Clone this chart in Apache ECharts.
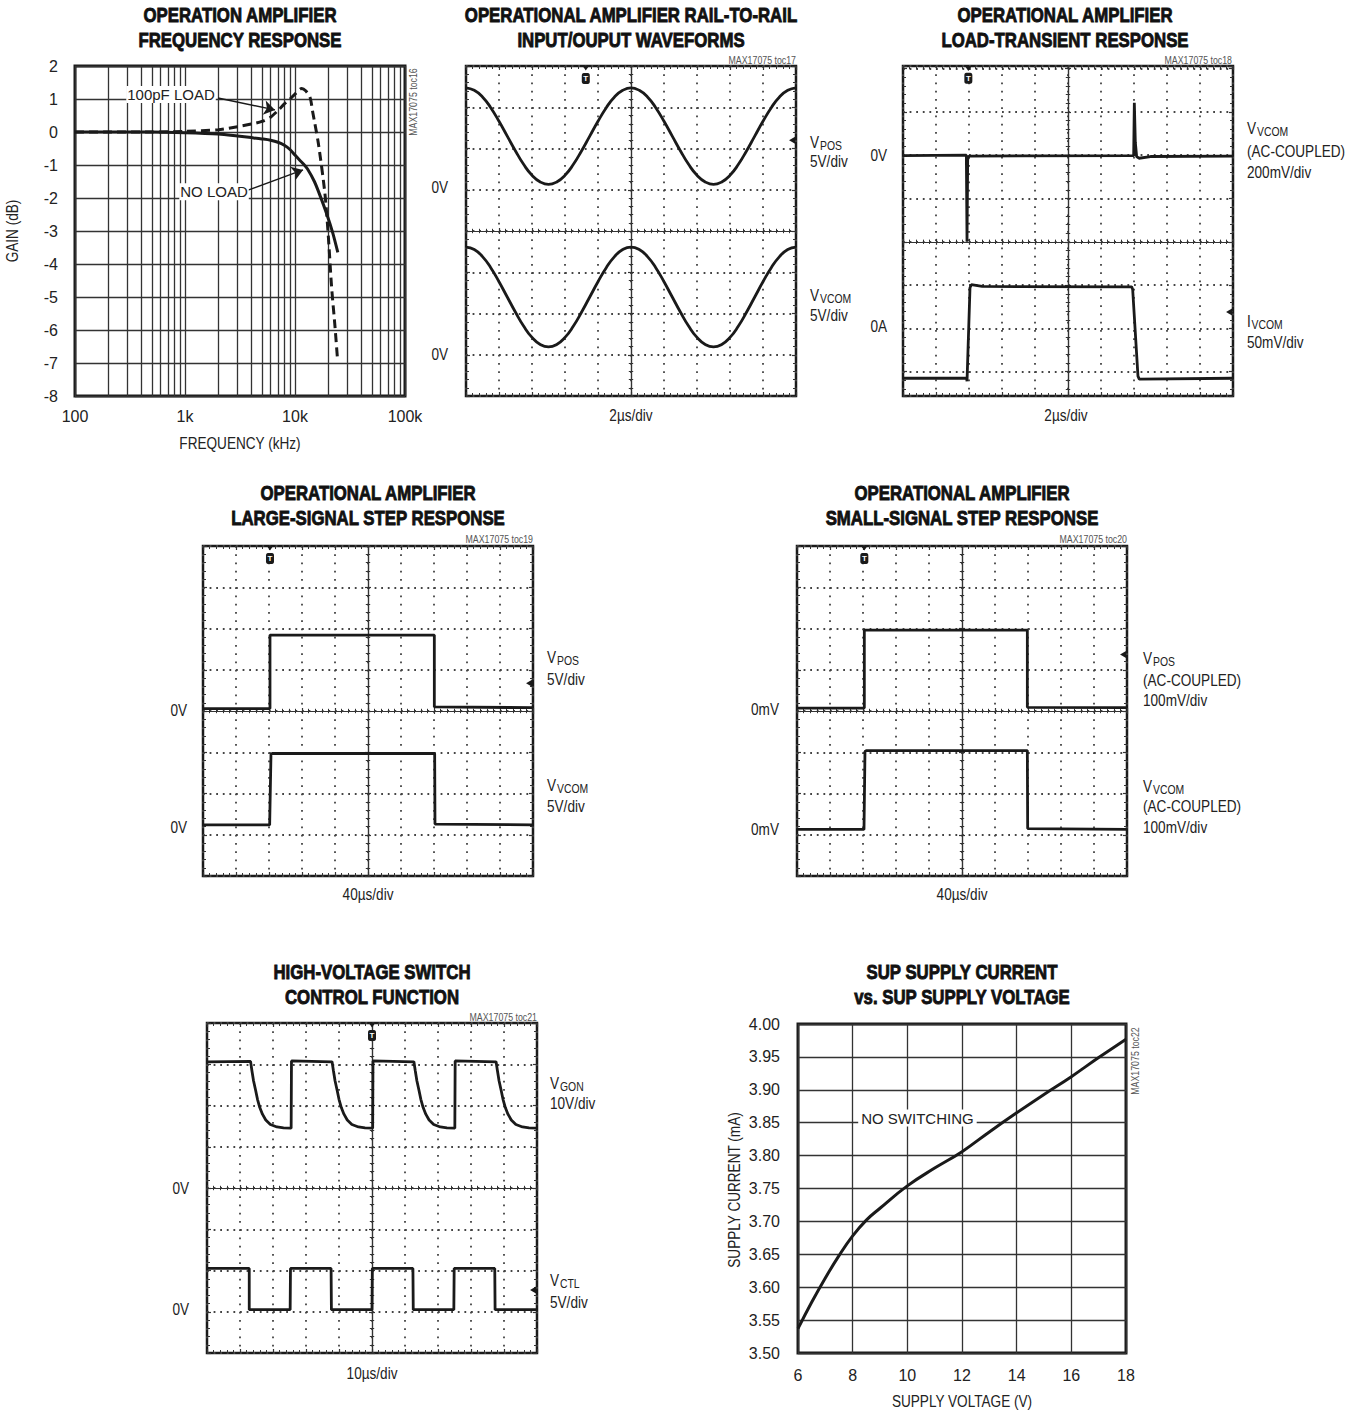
<!DOCTYPE html>
<html><head><meta charset="utf-8">
<script src="https://cdn.jsdelivr.net/npm/echarts@6/dist/echarts.min.js"></script>
<style>html,body{margin:0;padding:0;background:#fff}#c{width:1346px;height:1414px}</style>
</head><body><div id="c"></div>
<script>
// ---------------- DATA ----------------
// Panel 1: frequency response (kHz, dB)
const freqTickLabels = ['100', '1k', '10k', '100k'];
const freqMinorGrid = [200,300,400,500,600,700,800,900,2000,3000,4000,5000,6000,7000,8000,9000,20000,30000,40000,50000,60000,70000,80000,90000];
const freqNoLoad = [100,200,500,1000,2000,3000,4000,5000,6000,7000,8000,9000,10000,11000,12000,13000,15000,17000,19500,22000,24500];
const gainNoLoad = [0,0,0,-0.02,-0.06,-0.12,-0.17,-0.21,-0.25,-0.31,-0.4,-0.53,-0.7,-0.85,-0.98,-1.12,-1.5,-1.95,-2.5,-3.05,-3.65];
const freq100pF = [100,200,500,1000,2000,3000,4000,5000,6000,7000,8000,9000,10000,11500,12500,13700,14500,16300,18700,20100,21500,23100,24300];
const gain100pF = [0,0,0,0.02,0.07,0.16,0.24,0.32,0.45,0.65,0.85,1.0,1.15,1.32,1.25,1.05,0.6,-0.34,-1.86,-3.17,-4.69,-5.9,-6.85];

// Panel 2: rail-to-rail waveforms (time in div from centre, level in div)
const rrTime = [-5,-4.75,-4.5,-4.25,-4,-3.75,-3.5,-3.25,-3,-2.75,-2.5,-2.25,-2,-1.75,-1.5,-1.25,-1,-0.75,-0.5,-0.25,0,0.25,0.5,0.75,1,1.25,1.5,1.75,2,2.25,2.5,2.75,3,3.25,3.5,3.75,4,4.25,4.5,4.75,5];
const rrVpos = [3.47,3.41,3.25,2.99,2.66,2.30,1.94,1.61,1.35,1.19,1.13,1.19,1.35,1.61,1.94,2.30,2.66,2.99,3.25,3.41,3.47,3.41,3.25,2.99,2.66,2.30,1.94,1.61,1.35,1.19,1.13,1.19,1.35,1.61,1.94,2.30,2.66,2.99,3.25,3.41,3.47];
const rrVvcom = [-0.39,-0.45,-0.62,-0.89,-1.23,-1.60,-1.97,-2.31,-2.58,-2.75,-2.81,-2.75,-2.58,-2.31,-1.97,-1.60,-1.23,-0.89,-0.62,-0.45,-0.39,-0.45,-0.62,-0.89,-1.23,-1.60,-1.97,-2.31,-2.58,-2.75,-2.81,-2.75,-2.58,-2.31,-1.97,-1.60,-1.23,-0.89,-0.62,-0.45,-0.39];

// Panel 3: load transient
const ltVvcom = [[-5,1.99],[-3.08,2.0],[-3.06,0.0],[-3.04,1.9],[-3.0,1.98],[1.99,1.99],[2.01,3.21],[2.04,2.3],[2.08,1.97],[2.15,1.93],[2.5,1.97],[5,1.98]];
const ltIvcom = [[-5,-3.15],[-3.07,-3.15],[-3.06,-3.22],[-2.97,-1.06],[-2.93,-0.99],[-2.6,-1.03],[1.93,-1.04],[1.96,-1.1],[2.12,-3.1],[2.16,-3.17],[5,-3.15]];

// Panel 4: large-signal step
const lsVpos = [[-5,0.06],[-2.97,0.06],[-2.97,1.84],[2.01,1.84],[2.01,0.1],[5,0.08]];
const lsVvcom = [[-5,-2.76],[-2.98,-2.76],[-2.94,-1.05],[-2.9,-1.03],[2.02,-1.03],[2.03,-2.74],[5,-2.76]];

// Panel 5: small-signal step
const ssVpos = [[-5,0.07],[-2.96,0.07],[-2.96,1.96],[1.98,1.96],[1.98,0.09],[5,0.08]];
const ssVvcom = [[-5,-2.87],[-2.97,-2.87],[-2.94,-0.98],[-2.9,-0.96],[1.98,-0.96],[1.99,-2.85],[5,-2.87]];

// Panel 6: HV switch control
const hvGon = [[-5,3.06],[-3.68,3.07],[-3.64,2.85],[-3.59,2.6],[-3.53,2.38],[-3.47,2.15],[-3.4,1.95],[-3.32,1.79],[-3.22,1.65],[-3.08,1.54],[-2.88,1.48],[-2.68,1.46],[-2.45,1.45],[-2.44,3.08],
  [-1.21,3.06],[-1.17,2.85],[-1.12,2.6],[-1.06,2.38],[-1.0,2.15],[-0.93,1.95],[-0.85,1.79],[-0.75,1.65],[-0.61,1.54],[-0.41,1.48],[-0.21,1.46],[0.02,1.45],[0.03,3.08],
  [1.27,3.06],[1.31,2.85],[1.36,2.6],[1.42,2.38],[1.48,2.15],[1.55,1.95],[1.63,1.79],[1.73,1.65],[1.87,1.54],[2.07,1.48],[2.27,1.46],[2.51,1.45],[2.52,3.08],
  [3.76,3.06],[3.8,2.85],[3.85,2.6],[3.91,2.38],[3.97,2.15],[4.04,1.95],[4.12,1.79],[4.22,1.65],[4.36,1.54],[4.56,1.48],[4.76,1.46],[5,1.45]];
const hvCtl = [[-5,-1.95],[-3.72,-1.95],[-3.72,-2.95],[-2.48,-2.95],[-2.47,-1.95],[-1.24,-1.95],[-1.23,-2.95],[0,-2.95],[0.01,-1.95],[1.24,-1.95],[1.25,-2.95],[2.48,-2.95],[2.49,-1.95],[3.72,-1.95],[3.73,-2.95],[5,-2.95]];

// Panel 7: supply current vs supply voltage
const supplyVoltage = [6,6.5,7,7.5,8,8.5,9,10,11,12,13,14,15,16,17,18];
const supplyCurrent = [3.537,3.577,3.614,3.648,3.678,3.702,3.72,3.754,3.781,3.806,3.836,3.865,3.893,3.92,3.949,3.977];

// ---------------- STYLE ----------------
const FONT = "'Liberation Sans', Arial, Helvetica, sans-serif";
const INK = '#1a1a1a';
const TXT = '#222';
const SX = 0.8; // condensed look
const tickText = {fontFamily: FONT, fontSize: 16, color: TXT};
const annText = {fontFamily: FONT, fontSize: 15, color: TXT};

const grids = [], xAxes = [], yAxes = [], series = [], graphics = [];

// ---------------- PANEL 1 ----------------
grids.push({left: 75, top: 66, width: 330, height: 330, show: true, borderColor: INK, borderWidth: 3, outerBoundsMode: 'none'});
xAxes.push({gridIndex: 0, type: 'log', logBase: 10, min: 100, max: 100000,
  axisLine: {show: false}, axisTick: {show: false},
  splitLine: {show: true, lineStyle: {color: '#333', width: 1.3}},
  axisLabel: Object.assign({}, tickText, {margin: 12, formatter: v => freqTickLabels[Math.round(Math.log10(v)) - 2]})});
yAxes.push({gridIndex: 0, type: 'value', min: -8, max: 2, interval: 1,
  axisLine: {show: false}, axisTick: {show: false},
  splitLine: {show: true, lineStyle: {color: '#333', width: 1.3}},
  axisLabel: Object.assign({}, tickText, {margin: 17})});
series.push({type: 'line', xAxisIndex: 0, yAxisIndex: 0, data: [], silent: true,
  markLine: {silent: true, z: 1, symbol: ['none', 'none'], label: {show: false},
    lineStyle: {color: '#333', width: 1.3, type: 'solid'}, data: freqMinorGrid.map(v => ({xAxis: v}))}});
series.push({name: '100pF LOAD', type: 'line', xAxisIndex: 0, yAxisIndex: 0, z: 3,
  data: freq100pF.map((f, i) => [f, gain100pF[i]]), showSymbol: false, symbol: 'none', smooth: 0.25,
  lineStyle: {color: INK, width: 3, type: [9, 5]}, silent: true,
  markLine: {silent: true, symbol: ['none', 'arrow'], symbolSize: 11, label: {show: false},
    lineStyle: {color: INK, width: 1.4, type: 'solid'},
    data: [[{coord: [1995, 1.03]}, {coord: [6577, 0.67]}]]},
  markPoint: {silent: true, symbol: 'rect', symbolSize: 1, itemStyle: {color: 'rgba(0,0,0,0)'},
    data: [{coord: [746, 1.14], label: Object.assign({show: true, position: 'inside', formatter: '100pF LOAD', backgroundColor: '#fff', padding: [1, 1]}, annText)}]}});
series.push({name: 'NO LOAD', type: 'line', xAxisIndex: 0, yAxisIndex: 0, z: 3,
  data: freqNoLoad.map((f, i) => [f, gainNoLoad[i]]), showSymbol: false, symbol: 'none', smooth: 0.3,
  lineStyle: {color: INK, width: 3}, silent: true,
  markLine: {silent: true, symbol: ['none', 'arrow'], symbolSize: 11, label: {show: false},
    lineStyle: {color: INK, width: 1.4, type: 'solid'},
    data: [[{coord: [3741, -1.76]}, {coord: [11830, -1.15]}]]},
  markPoint: {silent: true, symbol: 'rect', symbolSize: 1, itemStyle: {color: 'rgba(0,0,0,0)'},
    data: [{coord: [1836, -1.81], label: Object.assign({show: true, position: 'inside', formatter: 'NO LOAD', backgroundColor: '#fff', padding: [1, 1]}, annText)}]}});

// ---------------- SCOPE PANELS ----------------
function scopePanel(cfg) {
  const gi = grids.length;
  grids.push({left: cfg.left, top: cfg.top, width: 330, height: 330, show: true, borderColor: INK, borderWidth: 2.5, outerBoundsMode: 'none'});
  const xi = xAxes.length, yi = yAxes.length;
  const yr = cfg.yRange || [-4, 4];
  const xBase = {gridIndex: gi, type: 'value', min: -5, max: 5, interval: 1, axisLabel: {show: false}, splitLine: {show: false}, silent: true};
  const yBase = {gridIndex: gi, type: 'value', min: yr[0], max: yr[1], axisLabel: {show: false}, splitLine: {show: false}, silent: true};
  if (cfg.yRange) { yBase.minInterval = 1; yBase.maxInterval = 1; yBase.splitNumber = 8; } else { yBase.interval = 1; }
  const tickC = {show: true, inside: true, length: 3, lineStyle: {color: '#333', width: 1.2}};
  const minorC = {show: true, splitNumber: 5, length: 2.2, lineStyle: {color: '#333', width: 1}};
  const tickB = {show: true, inside: true, length: 4, lineStyle: {color: '#333', width: 1.2}};
  const minorB = {show: true, splitNumber: 5, length: 3, lineStyle: {color: '#333', width: 1}};
  const cLine = {color: '#333', width: 1.2};
  xAxes.push(Object.assign({}, xBase, {position: 'bottom', axisLine: {show: true, onZero: true, onZeroAxisIndex: yi, lineStyle: cLine}, axisTick: tickC, minorTick: minorC,
    splitLine: {show: true, lineStyle: {color: '#444', width: 1.8, type: [1.8, 6.45]}}}));
  xAxes.push(Object.assign({}, xBase, {position: 'top', axisLine: {show: true, onZero: true, onZeroAxisIndex: yi, lineStyle: cLine}, axisTick: tickC, minorTick: minorC}));
  xAxes.push(Object.assign({}, xBase, {position: 'bottom', axisLine: {show: false, onZero: false}, axisTick: tickB, minorTick: minorB}));
  xAxes.push(Object.assign({}, xBase, {position: 'top', axisLine: {show: false, onZero: false}, axisTick: tickB, minorTick: minorB}));
  yAxes.push(Object.assign({}, yBase, {position: 'left', axisLine: {show: true, onZero: true, onZeroAxisIndex: xi, lineStyle: cLine}, axisTick: tickC, minorTick: minorC,
    splitLine: {show: true, lineStyle: {color: '#444', width: 1.8, type: [1.8, 4.8]}}}));
  yAxes.push(Object.assign({}, yBase, {position: 'right', axisLine: {show: true, onZero: true, onZeroAxisIndex: xi, lineStyle: cLine}, axisTick: tickC, minorTick: minorC}));
  yAxes.push(Object.assign({}, yBase, {position: 'left', axisLine: {show: false, onZero: false}, axisTick: tickB, minorTick: minorB}));
  yAxes.push(Object.assign({}, yBase, {position: 'right', axisLine: {show: false, onZero: false}, axisTick: tickB, minorTick: minorB}));
  cfg.traces.forEach((d, k) => {
    const s = {type: 'line', xAxisIndex: xi, yAxisIndex: yi, data: d, showSymbol: false, symbol: 'none',
      smooth: cfg.smooth ? 0.5 : false, lineStyle: {color: INK, width: 2.8}, z: 4, silent: true};
    if (k === 0) {
      s.markPoint = {silent: true, data: [
        {coord: [cfg.trig, cfg.trigY], symbol: 'roundRect', symbolSize: [8, 11], itemStyle: {color: INK},
          label: {show: true, position: 'inside', formatter: 'T', color: '#fff', fontSize: 8, fontWeight: 'bold', fontFamily: FONT}},
        {coord: [cfg.trig, cfg.trigTop], symbol: 'triangle', symbolRotate: 180, symbolSize: [7, 5], itemStyle: {color: INK}, label: {show: false}},
        {coord: [4.88, cfg.gnd], symbol: 'triangle', symbolRotate: 90, symbolSize: [7, 6], itemStyle: {color: INK}, label: {show: false}}
      ]};
    }
    series.push(s);
  });
}
scopePanel({left: 466, top: 66, traces: [rrTime.map((t, i) => [t, rrVpos[i]]), rrTime.map((t, i) => [t, rrVvcom[i]])], smooth: true, trig: -1.37, trigY: 3.7, trigTop: 3.95, gnd: 2.2});
scopePanel({left: 903, top: 66, yRange: [-3.56, 4.06], traces: [ltVvcom, ltIvcom], trig: -3.02, trigY: 3.78, trigTop: 4.0, gnd: -1.62});
scopePanel({left: 203, top: 546, traces: [lsVpos, lsVvcom], trig: -2.97, trigY: 3.7, trigTop: 3.95, gnd: 0.67});
scopePanel({left: 797, top: 546, traces: [ssVpos, ssVvcom], trig: -2.96, trigY: 3.7, trigTop: 3.95, gnd: 1.37});
scopePanel({left: 207, top: 1023, traces: [hvGon, hvCtl], trig: 0, trigY: 3.7, trigTop: 3.95, gnd: -2.47});

// ---------------- PANEL 7 ----------------
const g7 = grids.length;
grids.push({left: 798, top: 1024, width: 328, height: 329, show: true, borderColor: INK, borderWidth: 3, outerBoundsMode: 'none'});
const x7 = xAxes.length, y7 = yAxes.length;
xAxes.push({gridIndex: g7, type: 'value', min: 6, max: 18, interval: 2,
  axisLine: {show: false}, axisTick: {show: false},
  splitLine: {show: true, lineStyle: {color: '#333', width: 1.3}},
  axisLabel: Object.assign({}, tickText, {margin: 14})});
yAxes.push({gridIndex: g7, type: 'value', min: 3.5, max: 4.0, interval: 0.05,
  axisLine: {show: false}, axisTick: {show: false},
  splitLine: {show: true, lineStyle: {color: '#333', width: 1.3}},
  axisLabel: Object.assign({}, tickText, {margin: 18, formatter: v => v.toFixed(2)})});
series.push({name: 'NO SWITCHING', type: 'line', xAxisIndex: x7, yAxisIndex: y7, z: 3,
  data: supplyVoltage.map((v, i) => [v, supplyCurrent[i]]), showSymbol: false, symbol: 'none', smooth: 0.45,
  lineStyle: {color: INK, width: 3}, silent: true,
  markPoint: {silent: true, symbol: 'rect', symbolSize: 1, itemStyle: {color: 'rgba(0,0,0,0)'},
    data: [{coord: [10.37, 3.857], label: Object.assign({show: true, position: 'inside', formatter: 'NO SWITCHING', backgroundColor: '#fff', padding: [1, 3]}, annText)}]}});

// ---------------- TEXT ----------------
function T(x, y, text, o) {
  o = o || {};
  const size = o.size || 17;
  const weight = o.bold ? 'bold' : 'normal';
  const st = {text: text, fill: o.color || TXT, font: weight + ' ' + size + 'px ' + FONT, fontSize: size, fontFamily: FONT, fontWeight: weight,
      align: o.align || 'left', textAlign: o.align || 'left', verticalAlign: 'middle', textVerticalAlign: 'middle'};
  if (o.bold) { st.stroke = o.color || '#111'; st.lineWidth = 0.9; }
  return {type: 'text', x: x, y: y, silent: true, scaleX: o.sx || SX, rotation: o.rot || 0, style: st};
}
// letter with a subscript, as two text pieces
function SUB(x, y, main, sub, w) {
  return [T(x, y, main), T(x + w, y + 3, sub, {size: 13})];
}
const titleOpt = {bold: true, size: 21, align: 'center', color: '#111'};
[[240, 15, 'OPERATION AMPLIFIER'], [240, 40, 'FREQUENCY RESPONSE'],
 [631, 15, 'OPERATIONAL AMPLIFIER RAIL-TO-RAIL'], [631, 40, 'INPUT/OUPUT WAVEFORMS'],
 [1065, 15, 'OPERATIONAL AMPLIFIER'], [1065, 40, 'LOAD-TRANSIENT RESPONSE'],
 [368, 493, 'OPERATIONAL AMPLIFIER'], [368, 518, 'LARGE-SIGNAL STEP RESPONSE'],
 [962, 493, 'OPERATIONAL AMPLIFIER'], [962, 518, 'SMALL-SIGNAL STEP RESPONSE'],
 [372, 972, 'HIGH-VOLTAGE SWITCH'], [372, 997, 'CONTROL FUNCTION'],
 [962, 972, 'SUP SUPPLY CURRENT'], [962, 997, 'vs. SUP SUPPLY VOLTAGE']
].forEach(t => graphics.push(T(t[0], t[1], t[2], titleOpt)));

// axis titles
graphics.push(T(240, 443, 'FREQUENCY (kHz)', {align: 'center'}));
graphics.push(T(12, 231, 'GAIN (dB)', {align: 'center', rot: Math.PI / 2}));
graphics.push(T(962, 1401, 'SUPPLY VOLTAGE (V)', {align: 'center'}));
graphics.push(T(734, 1190, 'SUPPLY CURRENT (mA)', {align: 'center', rot: Math.PI / 2}));

const tocOpt = {size: 11, color: '#555', align: 'right'};
graphics.push(T(796, 60, 'MAX17075 toc17', tocOpt));
graphics.push(T(1232, 60, 'MAX17075 toc18', tocOpt));
graphics.push(T(533, 539, 'MAX17075 toc19', tocOpt));
graphics.push(T(1127, 539, 'MAX17075 toc20', tocOpt));
graphics.push(T(537, 1017, 'MAX17075 toc21', tocOpt));
graphics.push(T(413, 102, 'MAX17075 toc16', {size: 11, color: '#555', align: 'center', rot: Math.PI / 2}));
graphics.push(T(1135, 1061, 'MAX17075 toc22', {size: 11, color: '#555', align: 'center', rot: Math.PI / 2}));

const WV = 10, WI = 4.5;
// Panel 2 labels
graphics.push(...SUB(810, 142, 'V', 'POS', WV), T(810, 161, '5V/div'));
graphics.push(...SUB(810, 295, 'V', 'VCOM', WV), T(810, 315, '5V/div'));
graphics.push(T(448, 187, '0V', {align: 'right'}), T(448, 354, '0V', {align: 'right'}));
graphics.push(T(631, 415, '2µs/div', {align: 'center'}));
// Panel 3 labels
graphics.push(...SUB(1247, 128, 'V', 'VCOM', WV), T(1247, 151, '(AC-COUPLED)'), T(1247, 172, '200mV/div'));
graphics.push(...SUB(1247, 321, 'I', 'VCOM', WI), T(1247, 342, '50mV/div'));
graphics.push(T(887, 155, '0V', {align: 'right'}), T(887, 326, '0A', {align: 'right'}));
graphics.push(T(1066, 415, '2µs/div', {align: 'center'}));
// Panel 4 labels
graphics.push(...SUB(547, 657, 'V', 'POS', WV), T(547, 679, '5V/div'));
graphics.push(...SUB(547, 785, 'V', 'VCOM', WV), T(547, 806, '5V/div'));
graphics.push(T(187, 710, '0V', {align: 'right'}), T(187, 827, '0V', {align: 'right'}));
graphics.push(T(368, 894, '40µs/div', {align: 'center'}));
// Panel 5 labels
graphics.push(...SUB(1143, 658, 'V', 'POS', WV), T(1143, 680, '(AC-COUPLED)'), T(1143, 700, '100mV/div'));
graphics.push(...SUB(1143, 786, 'V', 'VCOM', WV), T(1143, 806, '(AC-COUPLED)'), T(1143, 827, '100mV/div'));
graphics.push(T(779, 709, '0mV', {align: 'right'}), T(779, 829, '0mV', {align: 'right'}));
graphics.push(T(962, 894, '40µs/div', {align: 'center'}));
// Panel 6 labels
graphics.push(...SUB(550, 1083, 'V', 'GON', WV), T(550, 1103, '10V/div'));
graphics.push(...SUB(550, 1280, 'V', 'CTL', WV), T(550, 1302, '5V/div'));
graphics.push(T(189, 1188, '0V', {align: 'right'}), T(189, 1309, '0V', {align: 'right'}));
graphics.push(T(372, 1373, '10µs/div', {align: 'center'}));

const chart = echarts.init(document.getElementById('c'), null, {renderer: 'svg', width: 1346, height: 1414});
chart.setOption({
  animation: false,
  backgroundColor: '#fff',
  grid: grids, xAxis: xAxes, yAxis: yAxes, series: series,
  graphic: {elements: graphics}
});
</script>
</body></html>
